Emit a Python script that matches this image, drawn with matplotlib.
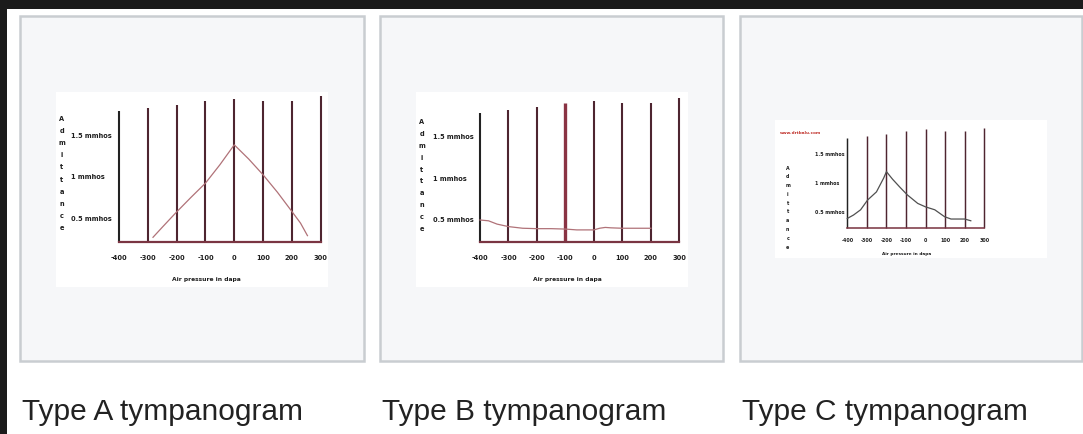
import matplotlib
matplotlib.use("Agg")
import matplotlib.pyplot as plt
from matplotlib.patches import Rectangle

# --- data ---
titles = ["Type A tympanogram", "Type B tympanogram", "Type C tympanogram"]
pressure_ticks = [-400, -300, -200, -100, 0, 100, 200, 300]
admittance_labels = ["1.5 mmhos", "1 mmhos", "0.5 mmhos"]
admittance_values = [1.5, 1.0, 0.5]

# heights of the hand-drawn vertical lines (same scale as admittance)
line_tops = [1.79, 1.83, 1.87, 1.91, 1.94, 1.92, 1.91, 1.97]

# Type A: peak at 0 daPa
a_pressure = [-282, -250, -204, -150, -100, -50, 0, 50, 100, 150, 200, 230, 254]
a_admit = [0.28, 0.40, 0.57, 0.76, 0.93, 1.15, 1.39, 1.22, 1.03, 0.82, 0.59, 0.45, 0.30]

# Type B: flat
b_pressure = [-400, -370, -340, -300, -250, -200, -150, -100, -60, 0, 20, 40, 60, 100, 150, 200]
b_admit = [0.50, 0.49, 0.45, 0.42, 0.40, 0.395, 0.395, 0.39, 0.38, 0.38, 0.40, 0.41, 0.405, 0.40, 0.40, 0.40]

# Type C: peak shifted to negative pressure
c_pressure = [-400, -368, -332, -296, -251, -214, -200, -169, -131, -94, -40, 0, 47, 97, 130, 200, 231]
c_admit = [0.40, 0.46, 0.55, 0.72, 0.86, 1.10, 1.21, 1.08, 0.94, 0.81, 0.66, 0.60, 0.55, 0.43, 0.39, 0.39, 0.36]

W, H = 1083, 434
fig = plt.figure(figsize=(W / 100, H / 100), dpi=100, facecolor="#1b1b1b")


def fx(px):
    return px / W


def fy(py):
    return 1 - py / H


def rect(x0, y0, x1, y1, **kw):
    fig.patches.append(Rectangle((fx(x0), fy(y1)), fx(x1) - fx(x0), fy(y0) - fy(y1),
                                 transform=fig.transFigure, figure=fig, zorder=-10, **kw))


def px_axes(x0, x1, ybot, ytop):
    return fig.add_axes([fx(x0), fy(ybot), fx(x1) - fx(x0), fy(ytop) - fy(ybot)])


narrow = ["DejaVu Sans"]
ink = "#1e1e1e"

# white page + cards
rect(7, 9, W + 2, H + 2, facecolor="white", edgecolor="none")
cards = [(20, 364), (380, 723), (740, 1082)]
for x0, x1 in cards:
    rect(x0, 16, x1, 361, facecolor="#f6f7f9", edgecolor="#c9cdd1", linewidth=1.8)

# white picture areas inside cards
rect(56, 92, 328, 287, facecolor="white", edgecolor="none")
rect(416, 92, 688, 287, facecolor="white", edgecolor="none")
rect(775, 120, 1047, 258, facecolor="white", edgecolor="none")

# chart specs: axes box in px, ylim bottom, text placement, size scale
charts = [
    dict(box=(119, 320.7, 242.3, 94), ybot=0.22, data=(a_pressure, a_admit), color="#b07278",
         ylab_x=71, adm_x=61.7, adm_y=(119, 228), xlabel=(206.7, 280), tick_y=258, fs=4.8, s=1.0),
    dict(box=(480, 679.3, 242.3, 96), ybot=0.23, data=(b_pressure, b_admit), color="#b07278",
         ylab_x=432.7, adm_x=421.7, adm_y=(122, 229), xlabel=(567, 280), tick_y=258, fs=4.8, s=1.0),
    dict(box=(847.3, 984.3, 227.7, 126), ybot=0.24, data=(c_pressure, c_admit), color="#505050",
         ylab_x=815, adm_x=787.7, adm_y=(168, 247), xlabel=(907, 254), tick_y=240, fs=3.4, s=0.7),
]

for i, c in enumerate(charts):
    x0, x1, yb, yt = c["box"]
    ax = px_axes(x0, x1, yb, yt)
    ax.set_xlim(-400, 300)
    ax.set_ylim(c["ybot"], 2.0)
    ax.axis("off")
    for j, (p, top) in enumerate(zip(pressure_ticks, line_tops)):
        col = "#222222" if j == 0 else "#4e2530"
        lw = 1.5 * c["s"]
        if i == 1 and p == -100:
            col, lw = "#8a3344", 2.4
        ax.plot([p, p], [c["ybot"], top], color=col, lw=lw, clip_on=False, solid_capstyle="butt")
    ax.plot([-400, 300], [c["ybot"], c["ybot"]], color="#7a3542", lw=1.6 * c["s"], clip_on=False)
    ax.plot(c["data"][0], c["data"][1], color=c["color"], lw=0.9, clip_on=False)

    # y labels (mmhos)
    scale = (yb - yt) / (2.0 - c["ybot"])
    for lab, v in zip(admittance_labels, admittance_values):
        py = yb - (v - c["ybot"]) * scale
        fig.text(fx(c["ylab_x"]), fy(py), lab, ha="left", va="center", fontsize=c["fs"],
                 fontweight="bold", family=narrow, color=ink)

    # stacked "Admittance"
    ya, yb2 = c["adm_y"]
    word = "Admittance"
    for k, ch in enumerate(word):
        py = ya + k * (yb2 - ya) / (len(word) - 1)
        fig.text(fx(c["adm_x"]), fy(py), ch, ha="center", va="center", fontsize=c["fs"],
                 fontweight="bold", family=narrow, color=ink)

    # pressure tick labels
    for p in pressure_ticks:
        px = x0 + (p + 400) / 700 * (x1 - x0)
        fig.text(fx(px), fy(c["tick_y"]), str(p), ha="center", va="center", fontsize=c["fs"],
                 fontweight="bold", family=narrow, color=ink)

    fig.text(fx(c["xlabel"][0]), fy(c["xlabel"][1]), "Air pressure in dapa", ha="center",
             va="center", fontsize=c["fs"] * 0.9, fontweight="bold", family=narrow, color=ink)

fig.text(fx(780), fy(132.7), "www.drtbalu.com", ha="left", va="center", fontsize=3.0,
         fontweight="bold", family=narrow, color="#c0302a")

# captions
for (x0, x1), t in zip(cards, titles):
    fig.text(fx(x0 + 2), fy(420), t, ha="left", va="baseline", fontsize=21.5,
             family=["Liberation Sans", "DejaVu Sans"], color="#222222")

fig.savefig("out.png", dpi=100, facecolor=fig.get_facecolor())
